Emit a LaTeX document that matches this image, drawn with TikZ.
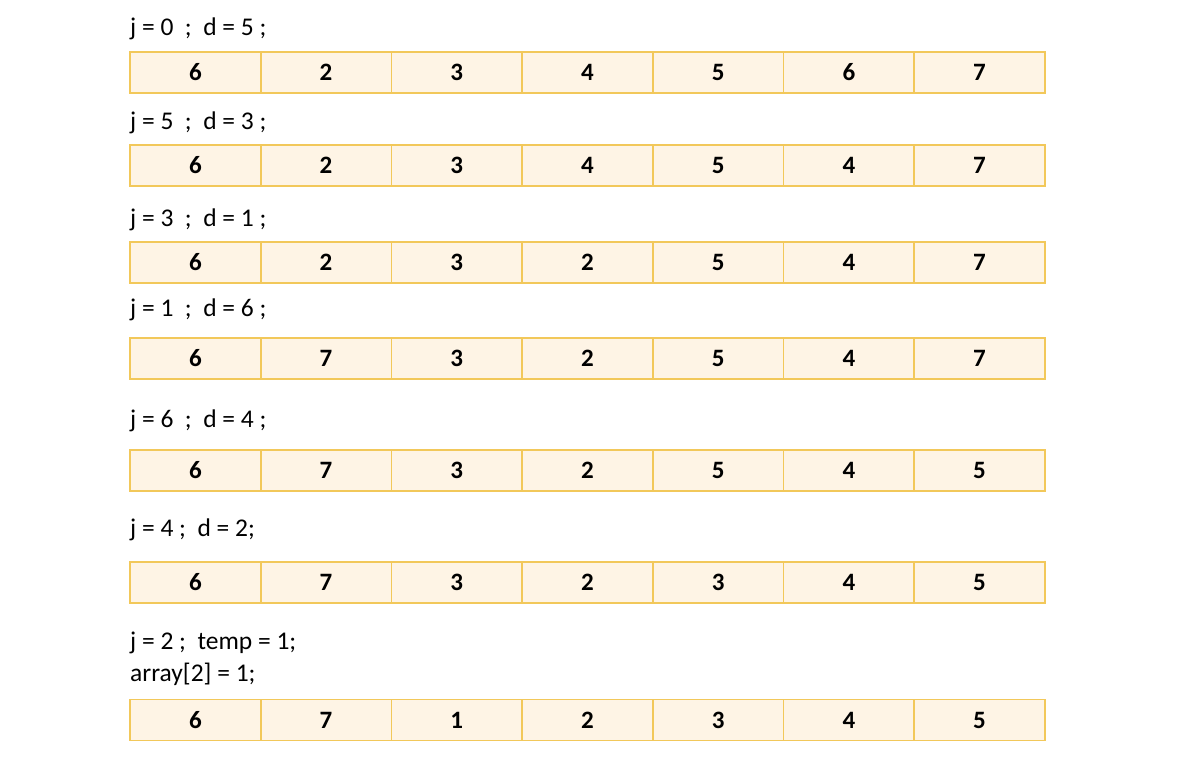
\documentclass[tikz,border=0pt]{standalone}
\usepackage{fontspec}
\setmainfont{Carlito}
\definecolor{cellfill}{RGB}{254,244,229}
\definecolor{celldraw}{RGB}{242,200,90}
\tikzset{
  cell/.style={draw=celldraw, fill=cellfill, line width=1.6pt, minimum width=130.7pt, minimum height=41pt, inner sep=0pt, font=\fontsize{25}{29}\selectfont\bfseries},
  lbl/.style={anchor=base west, inner sep=0pt, font=\fontsize{25.5}{30}\selectfont}
}
\begin{document}
\begin{tikzpicture}[x=1pt,y=-1pt]
\useasboundingbox (0,0) rectangle (1178,757);
% labels
\node[lbl] (l1) at (130,36) {j = 0\ \ ;\ \ d = 5 ;};
\node[lbl] (l2) at (130,130) {j = 5\ \ ;\ \ d = 3 ;};
\node[lbl] (l3) at (130,226) {j = 3\ \ ;\ \ d = 1 ;};
\node[lbl] (l4) at (130,316) {j = 1\ \ ;\ \ d = 6 ;};
\node[lbl] (l5) at (130,427) {j = 6\ \ ;\ \ d = 4 ;};
\node[lbl] (l6) at (130,536) {j = 4 ;\ \ d = 2;};
\node[lbl] (l7) at (130,649) {j = 2 ;\ \ temp = 1;};
\node[lbl] (l8) at (130,681) {array[2] = 1;};
% rows
\foreach \r/\y/\vals in {1/72.5/{6,2,3,4,5,6,7},2/165.5/{6,2,3,4,5,4,7},3/262.5/{6,2,3,2,5,4,7},4/358.5/{6,7,3,2,5,4,7},5/470.5/{6,7,3,2,5,4,5},6/582.5/{6,7,3,2,3,4,5},7/720/{6,7,1,2,3,4,5}}{
  \foreach \v [count=\c] in \vals {
    \node[cell] (r\r c\c) at ({130+130.7*(\c-0.5)},\y) {\v};
  }
}
\end{tikzpicture}
\end{document}
